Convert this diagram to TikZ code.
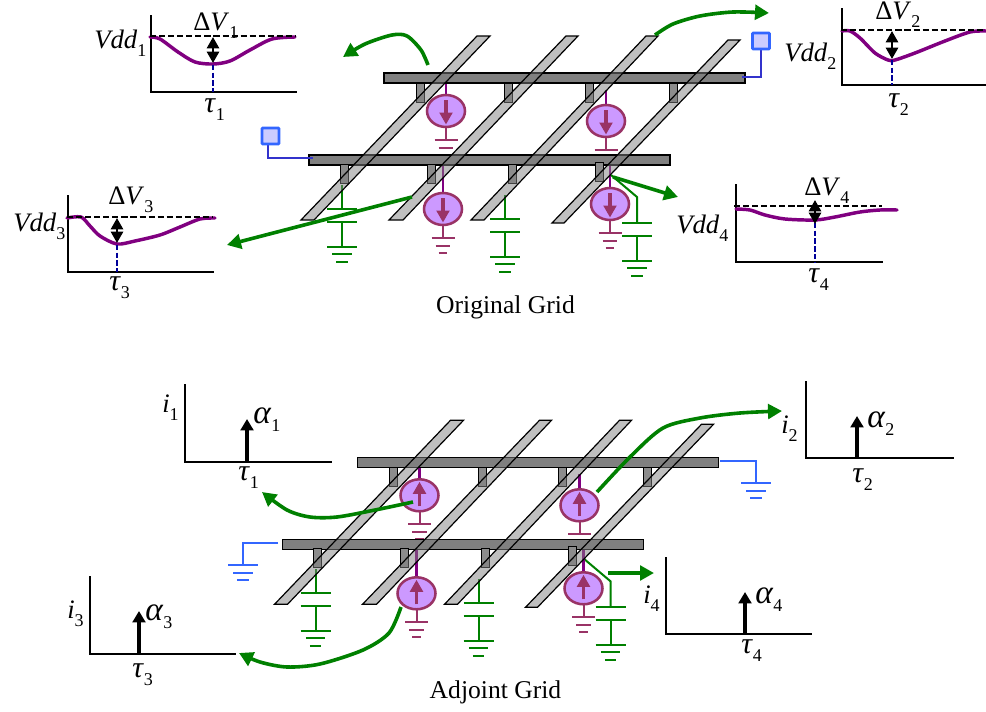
\documentclass[tikz,border=0pt]{standalone}
\usepackage{fontspec}
\setmainfont{Liberation Serif}
\usetikzlibrary{arrows.meta}
\definecolor{gridgreen}{HTML}{008000}
\definecolor{curvepurple}{HTML}{800080}
\definecolor{srcedge}{HTML}{993366}
\definecolor{srcfill}{HTML}{CC99FF}
\definecolor{padfill}{HTML}{CCCCFF}
\definecolor{padedge}{HTML}{3366FF}
\definecolor{padwire}{HTML}{3333CC}
\definecolor{dropblue}{HTML}{000099}
\newcommand{\subn}[1]{\raisebox{-0.32em}{\fontsize{13.5}{14}\selectfont\upshape #1}}
\newcommand{\tauchar}{{\fontsize{22.5}{24}\selectfont\textit{τ}}}
\newcommand{\alphachar}{{\fontsize{25}{26}\selectfont\textit{α}}}
\newcommand{\gnd}[3]{% x, y, half width
  \draw (#1-#3,#2) -- (#1+#3,#2);
  \draw (#1-#3*0.65,#2+7.5) -- (#1+#3*0.65,#2+7.5);
  \draw (#1-#3*0.38,#2+15) -- (#1+#3*0.38,#2+15);
}
\newcommand{\capgnd}[3]{% x, top of stem, plate y
  \begin{scope}[capline]
  \draw (#1,#2) -- (#1,#3);
  \draw (#1-15,#3) -- (#1+15,#3);
  \draw (#1-15,#3+12.5) -- (#1+15,#3+12.5);
  \draw (#1,#3+12.5) -- (#1,#3+37.5);
  \gnd{#1}{#3+37.5}{15}
  \end{scope}
}
\newcommand{\srcx}[6]{% cx cy wire-top plate-y arrow-sign plate half width
  \draw[srcwire] (#1,#3) -- (#1,#2);
  \draw[srcstem] (#1,#2) -- (#1,#4);
  \begin{scope}[srcstem] \gnd{#1}{#4}{#6} \end{scope}
  \draw[srcbody] (#1,#2) ellipse (19 and 16);
  \draw[srcarrow] (#1,#2-#5*11) -- (#1,#2+#5*13.5);
}
\newcommand{\gridbody}[1]{%
  \capgnd{342}{185}{209}
  \capgnd{505}{195}{219}
  \draw[capline] (611,175) -- (637,197) -- (637,223);
  \capgnd{637}{223}{223}
  \srcx{446}{111}{83}{140}{#1}{11.5}
  \srcx{443}{209}{165}{238}{#1}{11.5}
  \srcx{606}{121}{90}{150}{#1}{11.5}
  \srcx{610}{204}{165}{233}{#1}{11.5}
  \draw[bar] (384,73) rectangle (745,83);
  \draw[bar] (309,155) rectangle (670,165);
  \foreach \vx/\vy in {416/83,504.5/83,585/83,669.5/83,340/164,427/164,508/164,595/162}{
    \draw[via] (\vx,\vy) rectangle (\vx+8,\vy+19);
  }
  \draw[rail] (477,36) -- (490,36) -- (314,220) -- (301,220) -- cycle;
  \draw[rail] (566,36) -- (578,36) -- (403,220) -- (389,220) -- cycle;
  \draw[rail] (646,36) -- (658,36) -- (484,220) -- (471,220) -- cycle;
  \draw[rail] (728,40) -- (740,40) -- (564,223) -- (552,223) -- cycle;
}
\tikzset{
  capline/.style={draw=gridgreen,line width=1.5pt},
  srcwire/.style={draw=curvepurple,line width=1.8pt},
  srcstem/.style={draw=srcedge,line width=1.5pt},
  srcbody/.style={draw=srcedge,fill=srcfill,line width=1.9pt},
  srcarrow/.style={draw=srcedge,line width=2.5pt,-{Triangle[length=9pt,width=9.5pt]}},
  bar/.style={draw=black,fill=black!50,line width=1pt},
  via/.style={draw=black,fill=black!45,line width=.65pt},
  rail/.style={draw=black,line width=.9pt,fill=black!50,fill opacity=.5},
  axisline/.style={draw=black,line width=1.7pt},
  vcurve/.style={draw=curvepurple,line width=2.6pt,line cap=round},
  refdash/.style={draw=black,line width=2.1pt,dash pattern=on 4.6pt off 2.2pt},
  dropdash/.style={draw=dropblue,line width=2.1pt,dash pattern=on 4pt off 1.8pt},
  droparrow/.style={draw=black,line width=2pt,{Triangle[length=8.5pt,width=9pt]}-{Triangle[length=8.5pt,width=9pt]}},
  pulse/.style={draw=black,line width=2.7pt,-{Triangle[length=8.5pt,width=9.5pt]}},
  flow/.style={draw=gridgreen,line width=2.7pt,-{Triangle[length=10.5pt,width=11pt]}},
  pad/.style={draw=padedge,fill=padfill,line width=1.9pt,rounded corners=.5pt},
  padline/.style={draw=padwire,line width=1.9pt},
  earth/.style={draw=padedge,line width=1.5pt},
  lab/.style={anchor=base west,inner sep=0pt,font=\fontsize{20}{22}\selectfont},
  captext/.style={anchor=base,inner sep=0pt,font=\fontsize{19.2}{21}\selectfont},
}
\begin{document}
\begin{tikzpicture}[x=0.75pt,y=-0.75pt]
\useasboundingbox (0,0) rectangle (986,711);
% ---------- Original grid
\gridbody{1}
\draw[padline] (268,144) -- (268,158) -- (313,158);
\draw[pad] (262,128) rectangle (279,144);
\draw[padline] (761,49) -- (761,77) -- (742,77);
\draw[pad] (752.5,33) rectangle (769.5,49);
% ---------- Adjoint grid
\begin{scope}[shift={(-26.5,384.3)}]
\gridbody{-1}
\end{scope}
\draw[earth] (278,543) -- (243,543) -- (243,565);
\begin{scope}[earth]\gnd{243}{565}{15}\end{scope}
\draw[earth] (720,461) -- (756,461) -- (756,483);
\begin{scope}[earth]\gnd{756}{483}{15}\end{scope}
% ---------- Chart 1
\draw[axisline] (151,15) -- (151,92) -- (297,92);
\draw[vcurve] plot[smooth] coordinates {(150,37)(160,39)(178,52)(195,62)(213,64)(230,61)(250,50)(272,39)(295,37)};
\draw[refdash] (150,36) -- (296,36);
\draw[dropdash] (213,65) -- (213,92);
\draw[droparrow] (213,37) -- (213,63);
\node[lab] (vdda) at (94,48) {\textit{Vdd}\subn{1}};
\node[lab] (dva) at (193,30) {Δ\textit{V}\subn{1}};
\node[lab] (taua) at (204,112) {\tauchar\subn{1}};
% ---------- Chart 2
\draw[axisline] (842,8) -- (842,85) -- (986,85);
\draw[vcurve] plot[smooth] coordinates {(842,31)(850,31)(860,38)(875,53)(888,60)(895,60)(915,53)(945,41)(970,32)(986,31)};
\draw[refdash] (841,30) -- (986,30);
\draw[dropdash] (892,60) -- (892,85);
\draw[droparrow] (892,31) -- (892,59);
\node[lab] (vddb) at (784,61) {\textit{Vdd}\subn{2}};
\node[lab] (dvb) at (875,19) {Δ\textit{V}\subn{2}};
\node[lab] (taub) at (888,107) {\tauchar\subn{2}};
% ---------- Chart 3
\draw[axisline] (68,195) -- (68,272) -- (214,272);
\draw[vcurve] plot[smooth] coordinates {(67,218)(81,217)(90,226)(100,236)(117,244)(135,241)(160,235)(180,227)(200,219)(215,218)};
\draw[refdash] (67,217) -- (213,217);
\draw[dropdash] (117,245) -- (117,272);
\draw[droparrow] (117,218) -- (117,243);
\node[lab] (vddc) at (13,231) {\textit{Vdd}\subn{3}};
\node[lab] (dvc) at (108,204) {Δ\textit{V}\subn{3}};
\node[lab] (tauc) at (109,290) {\tauchar\subn{3}};
% ---------- Chart 4
\draw[axisline] (736,184) -- (736,262) -- (883,262);
\draw[vcurve] plot[smooth] coordinates {(736,209)(750,210)(765,215)(785,219)(815,220)(835,217)(860,212)(880,210)(897,210)};
\draw[refdash] (734,206) -- (882,206);
\draw[dropdash] (815,223) -- (815,262);
\draw[droparrow] (815,200) -- (815,224);
\node[lab] (vddd) at (676,233) {\textit{Vdd}\subn{4}};
\node[lab] (dvd) at (804,195) {Δ\textit{V}\subn{4}};
\node[lab] (taud) at (808,282) {\tauchar\subn{4}};
% ---------- Impulse charts
\draw[axisline] (185,384) -- (185,462) -- (332,462);
\draw[pulse] (247,462) -- (247,419);
\node[lab] (ia) at (162,412) {\textit{i}\subn{1}};
\node[lab] (ala) at (253,423) {\alphachar\subn{1}};
\node[lab] (tia) at (238,480) {\tauchar\subn{1}};
\draw[axisline] (806,381) -- (806,458) -- (954,458);
\draw[pulse] (857,458) -- (857,416);
\node[lab] (ib) at (781,433) {\textit{i}\subn{2}};
\node[lab] (alb) at (867,427) {\alphachar\subn{2}};
\node[lab] (tib) at (852,482) {\tauchar\subn{2}};
\draw[axisline] (90,576) -- (90,654) -- (236,654);
\draw[pulse] (139,654) -- (139,611);
\node[lab] (ic) at (67,618) {\textit{i}\subn{3}};
\node[lab] (alc) at (145,620) {\alphachar\subn{3}};
\node[lab] (tic) at (132,677) {\tauchar\subn{3}};
\draw[axisline] (666,557) -- (666,634) -- (812,634);
\draw[pulse] (745,634) -- (745,592);
\node[lab] (id) at (643,603) {\textit{i}\subn{4}};
\node[lab] (ald) at (755,603) {\alphachar\subn{4}};
\node[lab] (tid) at (741,653) {\tauchar\subn{4}};
% ---------- Green flow arrows
\draw[flow] plot[smooth] coordinates {(428,65)(421,50)(407,36)(392,35)(365,44)(343,57)};
\draw[flow] plot[smooth] coordinates {(655,35)(673,24)(700,16)(733,12)(769,13)};
\draw[flow] (412,197) -- (227,245);
\draw[flow] (613,177) -- (678,197);
\draw[flow] plot[smooth] coordinates {(413,502)(375,510)(337,517)(310,517)(287,510)(262,492)};
\draw[flow] plot[smooth] coordinates {(597,492)(630,457)(663,428)(700,418)(740,413)(782,411)};
\draw[flow] plot[smooth] coordinates {(401,607)(389,633)(363,650)(320,664)(287,667)(260,662)(239,653)};
\draw[flow] (608,573) -- (654,573);
% ---------- Captions
\node[captext] (orig) at (505.5,313) {Original Grid};
\node[captext] (adj) at (495.5,698) {Adjoint Grid};
\end{tikzpicture}
\end{document}
